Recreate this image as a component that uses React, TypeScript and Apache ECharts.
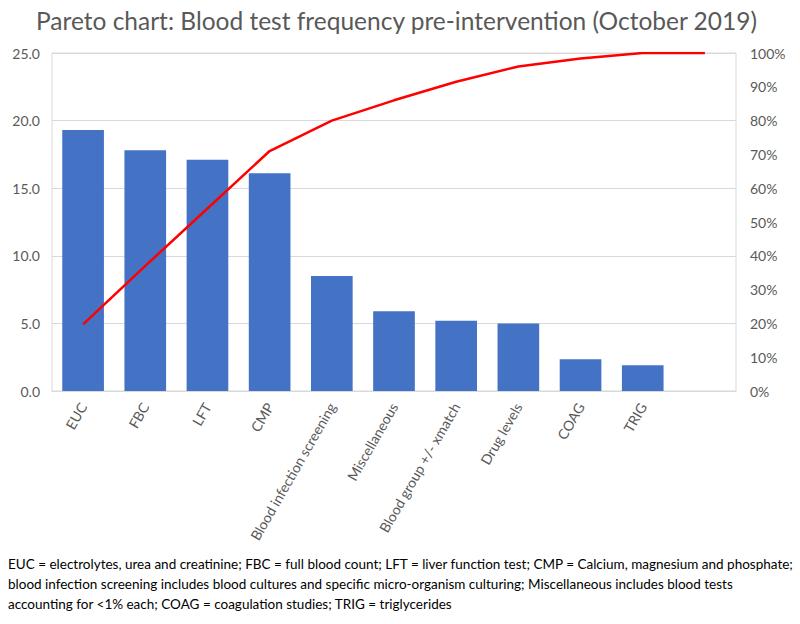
import React, { useEffect, useRef } from "react";
import * as echarts from "echarts";

const categories = [
  "EUC",
  "FBC",
  "LFT",
  "CMP",
  "Blood infection screening",
  "Miscellaneous",
  "Blood group +/- xmatch",
  "Drug levels",
  "COAG",
  "TRIG",
  "",
];
const frequency = [19.3, 17.8, 17.1, 16.1, 8.5, 5.9, 5.2, 5.0, 2.35, 1.9, null];
const cumulativePct = [19.7, 37, 54, 71, 80, 86, 91.5, 96, 98.4, 100, 100];
const leftTicks = { min: 0, max: 25, interval: 5 };
const rightTicks = { min: 0, max: 100, interval: 10 };

const titleText = "Pareto chart: Blood test frequency pre-intervention (October 2019)";
const footnoteLines = [
  "EUC = electrolytes, urea and creatinine; FBC = full blood count; LFT = liver function test; CMP = Calcium, magnesium and phosphate;",
  "blood infection screening includes blood cultures and specific micro-organism culturing; Miscellaneous includes blood tests",
  "accounting for <1% each; COAG = coagulation studies; TRIG = triglycerides",
];

export default function App() {
  const ref = useRef<HTMLDivElement>(null);
  useEffect(() => {
    if (!ref.current) return;
    const chart = echarts.init(ref.current, null, { renderer: "svg" });
    const grey = "#595959";
    chart.setOption({
      animation: false,
      backgroundColor: "#ffffff",
      textStyle: { fontFamily: "Lato" },
      title: {
        text: titleText,
        left: 31,
        top: 3,
        textStyle: {
          fontFamily: "Lato",
          fontSize: 24.5,
          fontWeight: "normal",
          color: grey,
        },
      },
      grid: {
        left: 52,
        right: 64,
        top: 53,
        bottom: 233,
        show: true,
        borderColor: "#d9d9d9",
        borderWidth: 1,
      },
      xAxis: {
        type: "category",
        data: categories,
        boundaryGap: true,
        axisTick: { show: false },
        axisLine: { lineStyle: { color: "#d9d9d9" } },
        axisLabel: {
          rotate: 60,
          interval: 0,
          color: grey,
          fontSize: 14,
          fontFamily: "Lato",
          margin: 13,
        },
      },
      yAxis: [
        {
          type: "value",
          min: leftTicks.min,
          max: leftTicks.max,
          interval: leftTicks.interval,
          axisLine: { show: false },
          axisTick: { show: false },
          splitLine: { lineStyle: { color: "#d9d9d9" } },
          axisLabel: {
            color: grey,
            fontSize: 14,
            fontFamily: "Lato",
            margin: 12,
            formatter: (v: number) => v.toFixed(1),
          },
        },
        {
          type: "value",
          min: rightTicks.min,
          max: rightTicks.max,
          interval: rightTicks.interval,
          position: "right",
          axisLine: { show: false },
          axisTick: { show: false },
          splitLine: { show: false },
          axisLabel: {
            color: grey,
            fontSize: 14,
            fontFamily: "Lato",
            margin: 14,
            formatter: (v: number) => v + "%",
          },
        },
      ],
      series: [
        {
          type: "bar",
          data: frequency,
          yAxisIndex: 0,
          barWidth: "67%",
          itemStyle: { color: "#4472C4" },
        },
        {
          type: "line",
          data: cumulativePct,
          yAxisIndex: 1,
          showSymbol: false,
          symbol: "none",
          lineStyle: { color: "#FF0000", width: 2.5 },
        },
      ],
      graphic: footnoteLines.map((t, i) => ({
        type: "text",
        left: 8,
        top: 557 + i * 20,
        style: {
          text: t,
          fill: "#000000",
          font: "13.5px Lato",
        },
      })),
    });
    return () => chart.dispose();
  }, []);
  return (
    <div
      ref={ref}
      style={{ position: "fixed", left: 0, top: 0, width: 800, height: 624 }}
    />
  );
}
